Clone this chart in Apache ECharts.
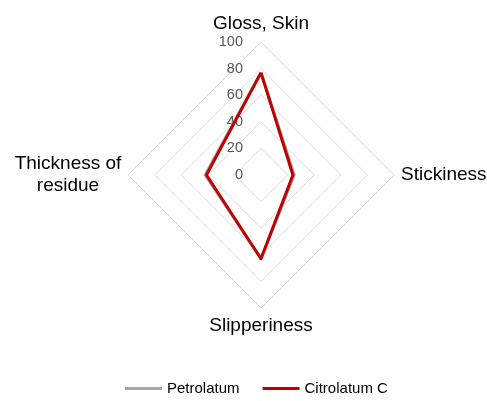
<!DOCTYPE html>
<html>
<head>
<meta charset="utf-8">
<script src="https://cdn.jsdelivr.net/npm/echarts@6/dist/echarts.min.js"></script>
<style>
html,body{margin:0;padding:0;background:#fff;}
#chart{width:487px;height:401px;}
</style>
</head>
<body>
<div id="chart"></div>
<script>
// Indicators in counterclockwise order from the top (top, left, bottom, right)
const indicators = ['Gloss, Skin', 'Thickness of\nresidue', 'Slipperiness', 'Stickiness'];
const maxValue = 100;
const tickInterval = 20;
const seriesNames = ['Petrolatum', 'Citrolatum C'];
const petrolatum = [77, 42, 63, 25];
const citrolatum = [77, 41, 63, 24];
const colors = ['#a5a5a5', '#c00000'];

const FONT = 'Liberation Sans, Arial, sans-serif';
const chart = echarts.init(document.getElementById('chart'));
chart.setOption({
  animation: false,
  color: colors,
  legend: {
    data: seriesNames,
    top: 376,
    left: 120,
    icon: 'rect',
    itemWidth: 37,
    itemHeight: 3,
    itemGap: 23,
    textStyle: { fontFamily: FONT, fontSize: 15, color: '#000' }
  },
  radar: {
    center: [261, 175],
    radius: 133,
    startAngle: 90,
    shape: 'polygon',
    splitNumber: maxValue / tickInterval,
    nameGap: 7,
    axisName: { color: '#000', fontSize: 19, fontFamily: FONT, lineHeight: 22 },
    axisLine: { show: false },
    axisTick: { show: false },
    splitArea: { show: false },
    splitLine: { lineStyle: { color: '#d9d9d9', width: 1 } },
    axisLabel: { show: false },
    indicator: indicators.map((n, i) => {
      const o = { name: n, min: 0, max: maxValue };
      if (i === 0) {
        o.axisLabel = { show: true, margin: 18, color: '#595959', fontSize: 14.5, fontFamily: FONT };
      }
      if (i === 1) {
        o.nameTextStyle = { align: 'center', padding: [0, 106, 0, 0] };
      }
      return o;
    })
  },
  series: [{
    type: 'radar',
    symbol: 'none',
    data: [
      { name: seriesNames[0], value: petrolatum, lineStyle: { color: colors[0], width: 3 } },
      { name: seriesNames[1], value: citrolatum, lineStyle: { color: colors[1], width: 3 } }
    ]
  }]
});
</script>
</body>
</html>
